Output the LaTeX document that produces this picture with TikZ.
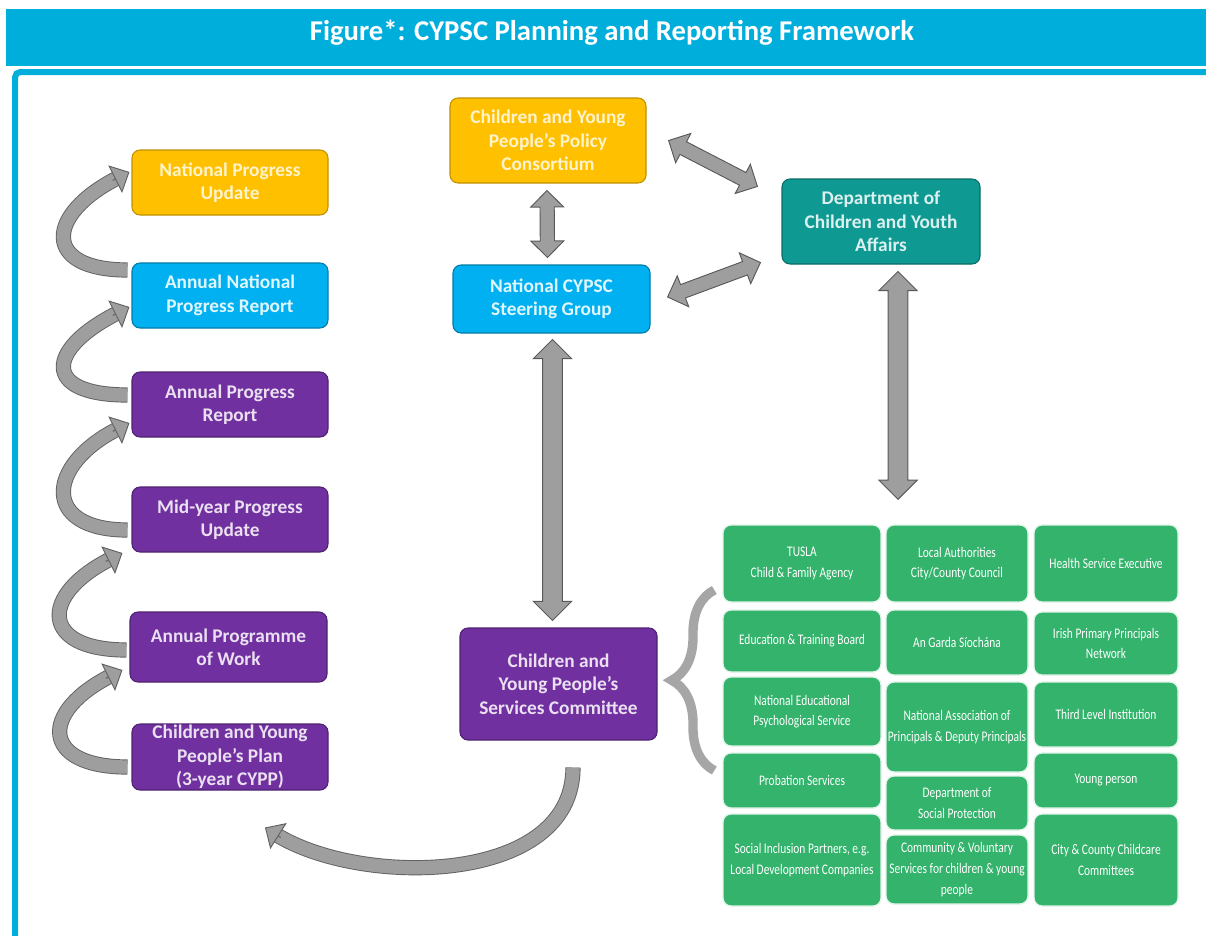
\documentclass[tikz,border=0pt]{standalone}
\usepackage{fontspec}
\setmainfont{Carlito}
\newfontfamily\narrowfont[FakeStretch=0.78]{Carlito}
\usetikzlibrary{calc,shapes.arrows,arrows.meta,decorations.pathreplacing}

\definecolor{hdrblue}{HTML}{00AEDB}
\definecolor{cyyellow}{HTML}{FFC000}
\definecolor{cyblue}{HTML}{00B0F0}
\definecolor{cypurple}{HTML}{7030A0}
\definecolor{cyteal}{HTML}{0E9A92}
\definecolor{cygreen}{HTML}{33B36B}

\tikzset{
  mbox/.style={rounded corners=6pt, line width=0.8pt, inner sep=0pt, align=center,
    font=\bfseries\fontsize{14.5}{17.5}\selectfont},
  ybox/.style={mbox, fill=cyyellow, draw=cyyellow!75!black, text=cyyellow!20!white},
  bbox/.style={mbox, fill=cyblue, draw=cyblue!70!black, text=cyblue!12!white},
  pbox/.style={mbox, fill=cypurple, draw=cypurple!70!black, text=cypurple!15!white},
  tbox/.style={mbox, fill=cyteal, draw=cyteal!70!black, text=cyteal!15!white},
  gbox/.style={rounded corners=6pt, fill=cygreen, draw=cygreen!15!white, line width=1pt,
    inner sep=0pt, align=center, text=white, font=\narrowfont\fontsize{11}{15.5}\selectfont},
  dblarrow/.style={double arrow, draw=black!65, fill=black!38, line width=0.7pt,
    inner xsep=0pt, double arrow head extend=7pt},
  loopshaft/.style={draw=black!62, line width=0.7pt, double=black!38, double distance=10pt,
    shorten >=9pt},
  loophead/.style={draw=black!62, line width=0.7pt,
    -{Triangle[width=23pt,length=12pt,fill=black!38]}}
}

% box from its corners (x1,y1,x2,y2), in pixels of the picture
\def\boxat[#1](#2)(#3,#4,#5,#6)#7{\node[#1, minimum width={(#5-#3)*0.75pt},
  minimum height={(#6-#4)*0.75pt}] (#2) at ({(#3+#5)/2},{(#4+#6)/2}) {#7};}
\def\gbox(#1)(#2,#3,#4,#5)#6{\boxat[gbox](#1)(#2,#3,#4,#5){#6}}

% straight arrow with two heads between two coordinates
\newcommand\twohead[3][5pt]{\path let \p1=($(#3)-(#2)$), \n1={atan2(\y1,\x1)},
  \n2={veclen(\x1,\y1)} in node[dblarrow, inner ysep=#1, minimum height=\n2, rotate=\n1]
  at ($(#2)!0.5!(#3)$) {};}

% curved arrow from the lower box up to the upper box
\newcommand\looparrow[4]{%
  \coordinate (lt) at ($(#1.west)+(#3)$);
  \coordinate (lh) at ($(#2.west)+(#4)$);
  \coordinate (lc) at ($(lh)+(-84,42)$);
  \draw[loopshaft] (lt) .. controls ($(lt)+(-86,0)$) and (lc) .. (lh);
  \draw[loophead] ($(lh)!14pt!(lc)$) -- (lh);
}

\begin{document}
\begin{tikzpicture}[x=0.75pt, y=-0.75pt]
		%%%%% START %%%%%
		\useasboundingbox (0,0) rectangle (1206,935);
		
		\fill[hdrblue] (6,9) rectangle (1206,66);
		\node[text=white, font=\bfseries\fontsize{21.5}{25}\selectfont] (title) at (612,33)
			{Figure*: CYPSC Planning and Reporting Framework};
		\draw[hdrblue, line width=4.5pt, rounded corners=4pt] (15,945) -- (15,72) -- (1215,72);
		
		% left column
		\boxat[ybox](npu)(132,150,328,215){National Progress\\Update}
		\boxat[bbox](anpr)(132,263,328,328){Annual National\\Progress Report}
		\boxat[pbox](apr)(132,372,328,437){Annual Progress\\Report}
		\boxat[pbox](myu)(132,487,328,552){Mid-year Progress\\Update}
		\boxat[pbox](apw)(130,612,327,682){Annual Programme\\of Work}
		\boxat[pbox](cypp)(132,724,328,790){Children and Young\\People’s Plan\\(3-year CYPP)}
		
		\looparrow{anpr}{npu}{-4,-25.5}{-2,-10.5}
		\looparrow{apr}{anpr}{-4,-9.5}{-2,11.5}
		\looparrow{myu}{apr}{-4,10.5}{-2,18.5}
		\looparrow{apw}{myu}{-3,3}{-9,33.5}
		\looparrow{cypp}{apw}{-4,10}{-7,23}
		
		% middle and right
		\boxat[ybox](cyppc)(450,98,646,183){Children and Young\\People’s Policy\\Consortium}
		\boxat[bbox](nsg)(453,265,650,333){National CYPSC\\Steering Group}
		\boxat[pbox](cypsc)(460,628,657,740){Children and\\Young People’s\\Services Committee}
		\boxat[tbox](dcya)(782,179,980,264){Department of\\Children and Youth\\Affairs}
		
		\coordinate (a1) at ($(cyppc.south)+(-1,7)$);
		\coordinate (a2) at ($(nsg.north)+(-4,-7)$);
		\twohead{a1}{a2}
		\coordinate (b1) at ($(cyppc.east)+(22,0)$);
		\coordinate (b2) at ($(dcya.north west)+(-24,8)$);
		\twohead{b1}{b2}
		\coordinate (c1) at ($(nsg.east)+(17,-2)$);
		\coordinate (c2) at ($(dcya.south west)+(-21,-2)$);
		\twohead{c1}{c2}
		\coordinate (d1) at ($(nsg.south)+(1,6)$);
		\coordinate (d2) at ($(nsg.south |- cypsc.north)+(1,-7)$);
		\twohead[7pt]{d1}{d2}
		
		% partner agencies
		\gbox(tusla)(723,525,881,602){TUSLA\\Child \& Family Agency}
		\gbox(la)(886,525,1028,602){Local Authorities\\City/County Council}
		\gbox(hse)(1034,525,1178,602){Health Service Executive}
		\gbox(etb)(723,610,881,672){Education \& Training Board}
		\gbox(garda)(886,610,1028,675){An Garda Síochána}
		\gbox(ippn)(1034,612,1178,675){Irish Primary Principals\\Network}
		\gbox(neps)(723,677,881,746){National Educational\\Psychological Service}
		\gbox(napd)(886,682,1028,772){National Association of\\Principals \& Deputy Principals}
		\gbox(tli)(1034,682,1178,747){Third Level Institution}
		\gbox(prob)(723,753,881,808){Probation Services}
		\gbox(dsp)(886,776,1028,830){Department of\\Social Protection}
		\gbox(yp)(1034,753,1178,808){Young person}
		\gbox(sip)(723,814,881,906){Social Inclusion Partners, e.g.\\Local Development Companies}
		\gbox(cvs)(886,835,1028,904){Community \& Voluntary\\Services for children \& young\\people}
		\gbox(cccc)(1034,814,1178,906){City \& County Childcare\\Committees}
		
		\coordinate (e1) at ($(dcya.south)+(17,7)$);
		\coordinate (e2) at ($(dcya.south |- la.north)+(17,-25)$);
		\twohead[7pt]{e1}{e2}
		
		\draw[decorate, decoration={brace, amplitude=32pt}, line width=7pt, color=black!35]
			($(prob.west)+(-8,-10)$) -- ($(etb.west)+(-8,-51)$);
		
		% back to the plan
		\coordinate (ft) at ($(cypsc.south)+(14.5,27)$);
		\coordinate (fh) at ($(cypp.south)+(35,37)$);
		\coordinate (fc) at ($(fh)+(95,60)$);
		\draw[loopshaft] (ft) .. controls ($(ft)+(0,118)$) and (fc) .. (fh);
		\draw[loophead] ($(fh)!14pt!(fc)$) -- (fh);
		
		%%%%% END %%%%%
	\end{tikzpicture}
\end{document}
